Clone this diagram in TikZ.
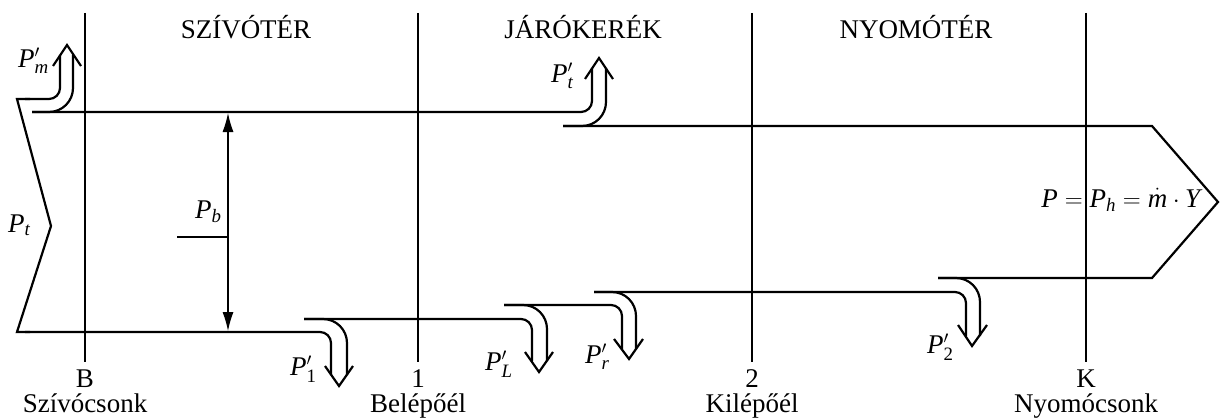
\documentclass[tikz,border=0pt]{standalone}
\usepackage{amsmath}
\usepackage{fontspec}
\setmainfont{Liberation Serif}
\usetikzlibrary{arrows.meta}
\newcommand{\pl}[1]{\textit{P}$^{\prime}_{#1}$}

\begin{document}
\begin{tikzpicture}[
    x=1pt, y=-1pt,
    band/.style={line width=2.2pt, line join=miter},
    sect/.style={line width=1.2pt},
    loss/.style={band, rounded corners=11pt},
    lossout/.style={band, rounded corners=24pt},
    lbl/.style={inner sep=0pt, font=\fontsize{27}{31}\selectfont}
  ]
  \useasboundingbox (0,0) rectangle (1220,420);

  % section boundaries
  \draw[sect] (85,13) -- (85,362);
  \draw[sect] (418,13) -- (418,362);
  \draw[sect] (752,13) -- (752,362);
  \draw[sect] (1086,13) -- (1086,362);

  \node[lbl, anchor=base] (szivo) at (246,38) {SZÍVÓTÉR};
  \node[lbl, anchor=base] (jaro) at (583,38) {JÁRÓKERÉK};
  \node[lbl, anchor=base] (nyomo) at (916,38) {NYOMÓTÉR};

  \node[lbl, anchor=base] (B) at (85,387) {B};
  \node[lbl, anchor=base] (Bname) at (85,412) {Szívócsonk};
  \node[lbl, anchor=base] (one) at (418,387) {1};
  \node[lbl, anchor=base] (onename) at (418,412) {Belépőél};
  \node[lbl, anchor=base] (two) at (752,387) {2};
  \node[lbl, anchor=base] (twoname) at (752,412) {Kilépőél};
  \node[lbl, anchor=base] (K) at (1086,387) {K};
  \node[lbl, anchor=base] (Kname) at (1086,412) {Nyomócsonk};

  % input and main band
  \draw[band] (30,99) -- (17,99) -- (51,226) -- (17,332) -- (30,332);
  \draw[loss] (32,112) -- (592,112) -- (592,68);
  \draw[band] (563,126) -- (1152,126) -- (1218,202) -- (1152,278) -- (938,278);

  % losses
  \draw[loss] (25,99) -- (60,99) -- (60,55);
  \draw[lossout] (32,112) -- (73,112) -- (73,55);
  \draw[band] (53,66) -- (67,45) -- (81,66);

  \draw[lossout] (563,126) -- (606,126) -- (606,68);
  \draw[band] (585,79) -- (599,58) -- (613,79);

  \draw[loss] (25,332) -- (331,332) -- (331,375);
  \draw[lossout] (304,319) -- (347,319) -- (347,375);
  \draw[band] (325,366) -- (339,386) -- (353,366);

  \draw[loss] (304,319) -- (532,319) -- (532,361);
  \draw[lossout] (504,305) -- (547,305) -- (547,361);
  \draw[band] (525,352) -- (539,372) -- (553,352);

  \draw[loss] (504,305) -- (622,305) -- (622,349);
  \draw[lossout] (594,292) -- (636,292) -- (636,349);
  \draw[band] (614,339) -- (629,359) -- (643,339);

  \draw[loss] (594,292) -- (966,292) -- (966,336);
  \draw[lossout] (938,278) -- (980,278) -- (980,336);
  \draw[band] (958,325) -- (972,346) -- (987,325);

  % P_b
  \draw[sect, {Latex[length=19pt,width=11pt]}-{Latex[length=19pt,width=11pt]}] (228,113) -- (228,331);
  \draw[sect] (177,237) -- (228,237);

  \node[lbl, anchor=base west] (Pm) at (18,67) {\pl{\textit{m}}};
  \node[lbl, anchor=base west] (Ptv) at (551,82) {\pl{\textit{t}}};
  \node[lbl, anchor=base west] (Pt) at (8,232) {\textit{P}$_{\textit{t}}$};
  \node[lbl, anchor=base west] (Pb) at (195,218) {\textit{P}$_{\textit{b}}$};
  \node[lbl, anchor=base west] (P1) at (290,375) {\pl{\text{1}}};
  \node[lbl, anchor=base west] (PL) at (485,370) {\pl{\textit{L}}};
  \node[lbl, anchor=base west] (Pr) at (585,363) {\pl{\textit{r}}};
  \node[lbl, anchor=base west] (P2) at (927,353) {\pl{\text{2}}};
  \node[lbl, anchor=base] (Ph) at (1122,207) {$\text{\textit{P}} = \text{\textit{P}}_{\textit{h}} = \dot{\text{\textit{m}}}\cdot\text{\textit{Y}}$};
\end{tikzpicture}
\end{document}
